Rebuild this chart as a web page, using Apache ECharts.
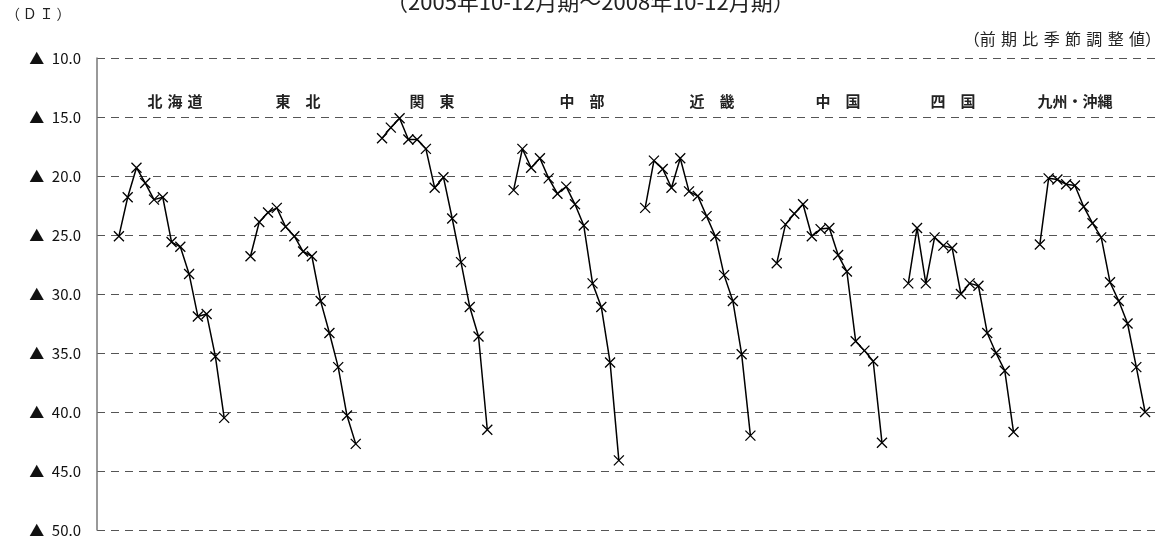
<!DOCTYPE html>
<html>
<head>
<meta charset="utf-8">
<script src="https://cdn.jsdelivr.net/npm/echarts@6/dist/echarts.min.js"></script>
<style>
html,body{margin:0;padding:0;background:#fff;}
#chart{width:1169px;height:538px;}
</style>
</head>
<body>
<div id="chart"></div>
<script>
// Regions (categories)
const regions = ['北海道', '東北', '関東', '中部', '近畿', '中国', '四国', '九州・沖縄'];
const regionLabels = ['北\u2004海\u2004道', '東　北', '関　東', '中　部', '近　畿', '中　国', '四　国', '九州・沖縄'];
// Quarters: 2005 10-12 ... 2008 10-12 (13 quarters)
const quarters = ['05Q4','06Q1','06Q2','06Q3','06Q4','07Q1','07Q2','07Q3','07Q4','08Q1','08Q2','08Q3','08Q4'];
// DI values (▲ = negative), per region
const hokkaido = [25.1, 21.8, 19.3, 20.6, 22.0, 21.8, 25.6, 26.0, 28.3, 31.9, 31.7, 35.3, 40.5];
const tohoku   = [26.8, 23.9, 23.1, 22.7, 24.3, 25.1, 26.4, 26.8, 30.6, 33.3, 36.2, 40.3, 42.7];
const kanto    = [16.8, 15.9, 15.1, 16.9, 16.9, 17.7, 21.0, 20.1, 23.6, 27.3, 31.1, 33.6, 41.5];
const chubu    = [21.2, 17.7, 19.3, 18.5, 20.2, 21.5, 20.9, 22.4, 24.2, 29.1, 31.1, 35.8, 44.1];
const kinki    = [22.7, 18.7, 19.4, 21.0, 18.5, 21.3, 21.7, 23.4, 25.1, 28.4, 30.6, 35.1, 42.0];
const chugoku  = [27.4, 24.1, 23.2, 22.4, 25.1, 24.5, 24.4, 26.7, 28.1, 34.0, 34.8, 35.7, 42.6];
const shikoku  = [29.1, 24.4, 29.1, 25.2, 25.9, 26.1, 30.0, 29.1, 29.3, 33.3, 35.0, 36.5, 41.7];
const kyushu   = [25.8, 20.2, 20.3, 20.7, 20.8, 22.6, 24.0, 25.2, 29.0, 30.6, 32.5, 36.2, 40.0];
const yTicks = [10, 15, 20, 25, 30, 35, 40, 45, 50];

const allSeries = [hokkaido, tohoku, kanto, chubu, kinki, chugoku, shikoku, kyushu];
const SLOTS = 15; // 13 quarters + 2 gap slots per region
const labelCenters = [175, 298, 432, 582, 712, 838, 953, 1075];

const crossPath = 'path://M0,0L10,10M10,0L0,10';

const series = allSeries.map((vals, g) => ({
  name: regions[g],
  type: 'line',
  data: vals.map((v, j) => [g * SLOTS + j, v]),
  symbol: crossPath,
  symbolSize: 10,
  lineStyle: {color: '#000', width: 1.5},
  itemStyle: {color: '#000', borderColor: '#000', borderWidth: 1.3},
  silent: true,
  animation: false
}));

const chart = echarts.init(document.getElementById('chart'));
const font = '"Noto Sans CJK JP", "Noto Sans", sans-serif';
const graphics = [
  {type: 'text', left: 6, top: 7, style: {text: '（\u2009Ｄ\u2009Ｉ\u2009）', font: '14px ' + font, fill: '#222'}},
  {type: 'text', left: 386, top: -9, style: {text: '（2005年10-12月期～2008年10-12月期）', font: '22px ' + font, fill: '#222'}},
  {type: 'text', right: 8, top: 31, style: {text: '（前\u2004期\u2004比\u2004季\u2004節\u2004調\u2004整\u2004値）', font: '16px ' + font, fill: '#222'}}
];
regionLabels.forEach((t, i) => {
  graphics.push({type: 'text', x: labelCenters[i], y: 101,
    style: {text: t, font: 'bold 15px ' + font, fill: '#222', textAlign: 'center', textVerticalAlign: 'middle'}});
});

chart.setOption({
  animation: false,
  grid: {left: 97, right: 9, top: 58, bottom: 8, containLabel: false},
  xAxis: {
    type: 'value', min: -2.5, max: 118.7,
    axisLine: {show: false}, axisTick: {show: false}, axisLabel: {show: false}, splitLine: {show: false}
  },
  yAxis: {
    type: 'value', inverse: true, min: 10, max: 50, interval: 5,
    axisLine: {show: true, onZero: false, lineStyle: {color: '#777', width: 1.5}},
    axisTick: {show: false},
    axisLabel: {
      margin: 16, color: '#111', fontFamily: font, fontSize: 15,
      formatter: v => yTicks.includes(v) ? '▲\u2002' + v.toFixed(1) : ''
    },
    splitLine: {show: true, lineStyle: {color: '#555', type: [8, 6], width: 1}}
  },
  graphic: graphics,
  series: series
});
</script>
</body>
</html>
